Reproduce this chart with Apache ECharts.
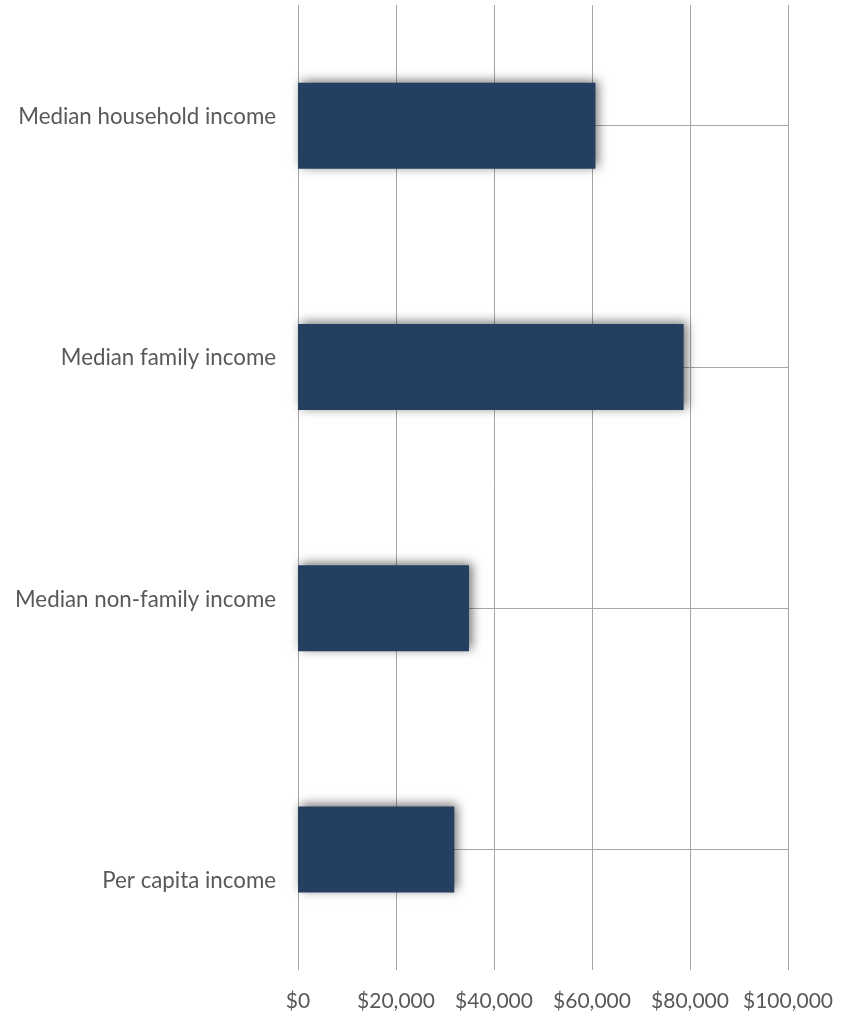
<!DOCTYPE html>
<html>
<head>
<meta charset="utf-8">
<script src="https://cdn.jsdelivr.net/npm/echarts@6/dist/echarts.min.js"></script>
<style>
  html, body { margin: 0; padding: 0; background: #ffffff; }
  #chart { width: 843px; height: 1013px; }
</style>
</head>
<body>
<div id="chart"></div>
<script>
// Income measures (US dollars)
const categories = ['Median household income', 'Median family income', 'Median non-family income', 'Per capita income'];
const incomeValues = [60700, 78700, 34900, 31900];
const xTicks = [0, 20000, 40000, 60000, 80000, 100000];

// Per-label vertical nudge (positive = move down), in px
const labelShift = [-9, -9, -8, 31];

const FONT = 'Lato, "Open Sans", sans-serif';
const GRID_COLOR = '#a6a6a6';

function money(v) {
  return '$' + v.toLocaleString('en-US');
}

const richStyles = {};
labelShift.forEach((s, i) => {
  richStyles['l' + i] = {
    fontFamily: FONT,
    fontSize: 22.3,
    color: '#595959',
    padding: s < 0 ? [0, 0, -2 * s, 0] : [2 * s, 0, 0, 0]
  };
});

const chart = echarts.init(document.getElementById('chart'), null, { renderer: 'canvas' });

chart.setOption({
  animation: false,
  backgroundColor: '#ffffff',
  grid: { left: 298, right: 55, top: 5, bottom: 43, containLabel: false },
  xAxis: {
    type: 'value',
    min: xTicks[0],
    max: xTicks[xTicks.length - 1],
    interval: xTicks[1] - xTicks[0],
    axisLine: { show: false },
    axisTick: { show: false },
    splitLine: { show: true, lineStyle: { color: GRID_COLOR, width: 1 } },
    axisLabel: {
      formatter: money,
      fontFamily: FONT,
      fontSize: 21,
      color: '#595959',
      margin: 21,
      showMinLabel: true,
      showMaxLabel: true
    }
  },
  yAxis: {
    type: 'category',
    data: categories,
    inverse: true,
    axisLine: { show: false },
    axisTick: { show: false },
    splitLine: { show: false },
    axisLabel: {
      margin: 22,
      formatter: (value, idx) => '{l' + idx + '|' + value + '}',
      rich: richStyles
    }
  },
  series: [
    {
      // horizontal reference line through each category, drawn behind the bars
      type: 'line',
      data: [],
      z: 1,
      silent: true,
      markLine: {
        z: 1,
        silent: true,
        symbol: ['none', 'none'],
        label: { show: false },
        lineStyle: { color: GRID_COLOR, width: 1, type: 'solid' },
        data: categories.map(c => [
          { coord: [xTicks[0], c] },
          { coord: [xTicks[xTicks.length - 1], c] }
        ])
      }
    },
    {
      type: 'bar',
      data: incomeValues,
      z: 3,
      barWidth: 86,
      itemStyle: {
        color: '#243f5f',
        shadowColor: 'rgba(0,0,0,0.55)',
        shadowBlur: 10,
        shadowOffsetX: 3,
        shadowOffsetY: -2
      }
    }
  ]
});
</script>
</body>
</html>
